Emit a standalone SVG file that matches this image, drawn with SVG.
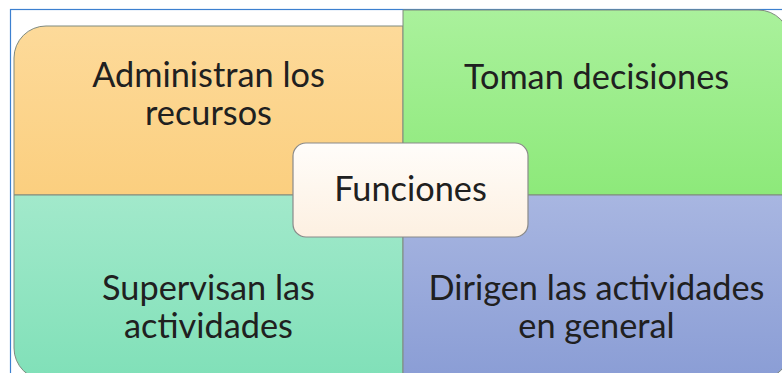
<svg xmlns="http://www.w3.org/2000/svg" width="782" height="373" viewBox="0 0 782 373">
<style>
.q{stroke:#7f8a7f;stroke-width:1}
.t{font-family:Lato,"Open Sans","Liberation Sans",sans-serif;font-size:34.3px;fill:#202020;text-anchor:middle}
</style>
<defs>
<linearGradient id="gO" x1="0" y1="0" x2="0" y2="1"><stop offset="0" stop-color="#fdda9a"/><stop offset="1" stop-color="#fbcf7f"/></linearGradient>
<linearGradient id="gG" x1="0" y1="0" x2="0" y2="1"><stop offset="0" stop-color="#aaf19c"/><stop offset="1" stop-color="#8de97a"/></linearGradient>
<linearGradient id="gT" x1="0" y1="0" x2="0" y2="1"><stop offset="0" stop-color="#a2e9cb"/><stop offset="1" stop-color="#80e0b8"/></linearGradient>
<linearGradient id="gB" x1="0" y1="0" x2="0" y2="1"><stop offset="0" stop-color="#a8b6e1"/><stop offset="1" stop-color="#8a9dd5"/></linearGradient>
<linearGradient id="gC" x1="0" y1="0" x2="0" y2="1"><stop offset="0" stop-color="#fffdfa"/><stop offset="1" stop-color="#fdf0e1"/></linearGradient>
</defs>
<rect x="0" y="0" width="782" height="373" fill="#ffffff"/>
<rect x="10.5" y="9.5" width="800" height="400" fill="#ffffff" stroke="#3c80d0" stroke-width="1.2"/>
<g id="administran">
<path class="q" d="M14,195 V58 A32,32 0 0 1 46,26 H403 V195 Z" fill="url(#gO)"/>
<text class="t" x="208.5" y="87">Administran los</text>
<text class="t" x="208.5" y="125">recursos</text>
</g>
<g id="toman">
<path class="q" d="M403,10 H758 A32,32 0 0 1 790,42 V195 H403 Z" fill="url(#gG)"/>
<text class="t" x="596.5" y="89">Toman decisiones</text>
</g>
<g id="supervisan">
<path class="q" d="M14,195 H403 V380 H46 A32,32 0 0 1 14,348 Z" fill="url(#gT)"/>
<text class="t" x="208.5" y="300">Supervisan las</text>
<text class="t" x="208.5" y="338">actividades</text>
</g>
<g id="dirigen">
<path class="q" d="M403,195 H790 V348 A32,32 0 0 1 758,380 H403 Z" fill="url(#gB)"/>
<text class="t" x="596.5" y="300">Dirigen las actividades</text>
<text class="t" x="596.5" y="338">en general</text>
</g>
<g id="funciones">
<rect x="293" y="143" width="235" height="94" rx="13" fill="url(#gC)" stroke="#8a8a8a" stroke-width="1.2"/>
<text class="t" x="410.5" y="201">Funciones</text>
</g>
<g id="connectors"/>
</svg>
